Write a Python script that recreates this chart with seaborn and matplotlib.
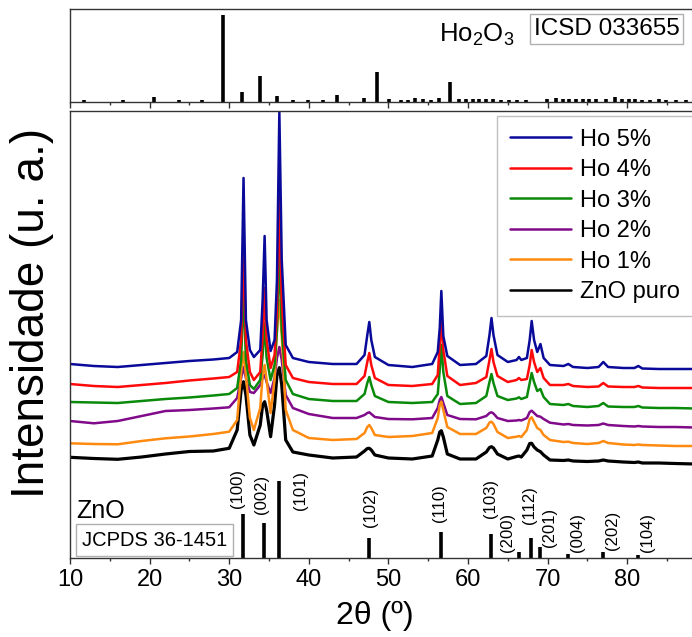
import numpy as np
import pandas as pd
import matplotlib
matplotlib.use('Agg')
import matplotlib.pyplot as plt
import seaborn as sns
from matplotlib.ticker import MultipleLocator

sns.set_theme(style='white')
plt.rcParams['font.family'] = ['Liberation Sans', 'DejaVu Sans']
plt.rcParams['mathtext.fontset'] = 'custom'
plt.rcParams['mathtext.rm'] = 'Liberation Sans'
plt.rcParams['mathtext.it'] = 'Liberation Sans:italic'
plt.rcParams['text.color'] = 'black'
plt.rcParams['xtick.color'] = 'black'
plt.rcParams['axes.labelcolor'] = 'black'

# ---------- DRX data ----------
two_theta = [10, 13, 16, 19, 22, 25, 28, 30,
             31.0, 31.5, 31.8, 32.1, 32.6, 33.1,
             33.9, 34.2, 34.45, 34.7, 35.2,
             35.7, 36.0, 36.3, 36.6, 37.1,
             38, 40, 43, 46,
             47.0, 47.35, 47.6, 47.85, 48.3,
             50, 53, 55.5,
             56.2, 56.45, 56.65, 56.9, 57.4,
             59, 61,
             62.3, 62.7, 62.95, 63.2, 63.7,
             65,
             66.1, 66.4, 66.7,
             67.4, 67.75, 68.0, 68.3, 68.7,
             69.1, 69.5, 70.3,
             72.0, 72.6, 73.2,
             75.0, 76.4, 77.0, 77.6,
             79.5, 80.9, 81.4, 81.9,
             84, 86, 88.5]

ho5 = [194, 192, 191, 193, 195, 197, 198.5, 200,
       206, 238, 380, 238, 208, 201,
       208, 258, 322, 238, 207,
       218, 278, 446, 298, 213,
       200, 196, 194, 194,
       203, 223, 236, 218, 201,
       193, 191, 194,
       206, 230, 267, 222, 202,
       193, 194,
       202, 223, 240, 223, 203,
       196,
       198, 201, 198,
       200, 218, 237, 218, 206,
       214, 200, 193,
       192, 194, 191,
       190, 191, 196, 191,
       190, 190, 192, 189.5,
       189, 189, 189]

ho4 = [174, 172, 171, 173, 175, 177.5, 179.5, 181,
       186, 218, 313, 218, 186, 178,
       186, 223, 270, 218, 190,
       203, 248, 361, 258, 193,
       180, 176, 174, 174,
       182, 196, 205, 193, 180,
       173, 172, 174,
       183, 213, 238, 208, 182,
       173, 175,
       181, 198, 209, 196, 182,
       176,
       178, 180, 178,
       179, 193, 208, 196, 186,
       190, 180, 173,
       173, 174, 172,
       171, 171.5, 175, 171.5,
       171, 171, 172, 170.5,
       170, 170, 170]

ho3 = [156, 155.5, 155, 157, 159, 160.5, 162.5, 164,
       170, 198, 268, 198, 173, 169,
       178, 203, 235, 200, 178,
       193, 228, 307, 228, 178,
       164, 159, 157, 157,
       164, 175, 181, 173, 162,
       156, 155, 156,
       164, 188, 213, 186, 162,
       154, 155,
       162, 176, 184, 175, 162,
       158,
       159.5, 160.7, 159,
       161, 175, 185, 176, 167,
       169, 161, 154,
       153, 154, 152,
       151, 152, 155, 151.5,
       151, 151, 152, 150.5,
       150, 150, 149.5]

ho2 = [137, 134.7, 137, 142, 147, 148, 149.5, 150.7,
       160, 180, 191, 180, 166, 165,
       173, 180, 183, 176, 165,
       180, 200, 211, 198, 163,
       150, 144, 140, 140,
       143, 145, 145.7, 144, 141,
       139, 138.7, 140,
       150, 158, 161, 155, 143,
       139, 138.7,
       142, 145, 145.7, 144.5, 140,
       137,
       137.5, 138, 137.5,
       140, 146, 147.3, 145, 142,
       141.3, 139, 135.3,
       133.5, 134, 133,
       132.5, 133, 134.5, 133,
       132, 131.5, 132, 131.5,
       131, 131, 130.5]

ho1 = [114.7, 114, 113.7, 117, 119.7, 121.5, 124, 126.3,
       138, 186, 206, 183, 140, 128,
       150, 183, 193, 178, 145,
       178, 228, 258, 223, 148,
       128, 120, 118, 119,
       125, 131, 133, 130, 123,
       121, 122, 125,
       140, 153, 156.3, 148, 131,
       124, 124,
       130, 135.5, 136.3, 134, 126,
       120,
       121.3, 122, 121,
       128, 139, 140.7, 136, 130,
       128, 123, 118,
       116, 116.3, 115,
       114, 115, 117, 115,
       113.5, 113, 113.5, 113,
       112.5, 112, 112]

zno_puro = [100.7, 99.5, 98.7, 101, 104, 106.5, 107, 109.7,
            128, 168, 176.3, 163, 123, 113,
            133, 153, 156.3, 148, 121.3,
            153, 183, 190.3, 173, 118,
            106, 103, 100, 101,
            107, 109.5, 109.7, 108, 103,
            100, 99, 102,
            118, 126, 127.3, 121, 104,
            99, 99,
            106, 110.5, 111.3, 110, 104,
            99,
            101.5, 102, 101,
            108, 114.5, 114.7, 111, 108,
            106.3, 103, 98,
            97.5, 98, 97,
            96.5, 97, 98, 97,
            96, 95.5, 96, 95,
            95, 94.5, 94]

# ZnO reference (JCPDS 36-1451)
zno_pos = [31.77, 34.42, 36.25, 47.54, 56.6, 62.86, 66.38, 67.96, 69.1, 72.56, 76.95, 81.37]
zno_int = [44.3, 35, 76.7, 20, 26, 23.7, 6, 20, 11, 4, 6, 3]
zno_hkl = ['(100)', '(002)', '(101)', '(102)', '(110)', '(103)',
           '(200)', '(112)', '(201)', '(004)', '(202)', '(104)']

# Ho2O3 reference (ICSD 033655)
ho2o3_pos = [11.76, 16.7, 20.55, 23.7, 26.6, 29.18, 31.6, 33.83, 35.96, 37.97,
             39.9, 41.8, 43.5, 46.97, 48.55, 50.1, 51.6, 52.4, 53.34, 54.3,
             55.35, 56.3, 57.74, 58.9, 59.75, 60.6, 61.4, 62.3, 63.1, 64.15,
             65.2, 66.2, 67.3, 69.9, 71.05, 71.9, 72.7, 73.6, 74.4, 75.2,
             76.1, 77.3, 78.5, 79.35, 80.2, 81.0, 81.9, 82.9, 84.0, 84.9,
             86.1, 87.4]
ho2o3_int = [1.7, 2, 4.3, 2, 2, 86.7, 9.7, 25.3, 6, 2,
             1.7, 2, 6.3, 3.7, 29.3, 2.7, 1.7, 2, 3.3, 2.3,
             2, 3.3, 20, 3, 2.7, 3, 2.3, 2.3, 2.3, 1.7,
             2, 1.7, 1.7, 2.3, 3.3, 2.7, 2.7, 2.3, 2.3, 2.7,
             2.7, 3, 4.3, 2.3, 3, 2.3, 2, 2, 2.3, 2,
             2, 1.7]

labels = ['Ho 5%', 'Ho 4%', 'Ho 3%', 'Ho 2%', 'Ho 1%', 'ZnO puro']
series = [ho5, ho4, ho3, ho2, ho1, zno_puro]
colors = ['#0a0a9a', '#ff0a0a', '#0a8a0a', '#800a8a', '#ff8a10', '#000000']
widths = [1.8, 1.8, 1.8, 1.8, 1.8, 2.3]

# ---------- Figure ----------
fig = plt.figure(figsize=(6.92, 6.37), dpi=100)
W, H = 692, 637
x0 = 70
x1 = 696
xmax = 10 + (x1 - x0) / 7.96

ax_top = fig.add_axes([x0 / W, 1 - 101.5 / H, (x1 - x0) / W, 92.5 / H])
ax = fig.add_axes([x0 / W, 1 - 558 / H, (x1 - x0) / W, (558 - 110.7) / H])

# top panel: Ho2O3 sticks
ax_top.vlines(ho2o3_pos, 0, ho2o3_int, color='black', lw=2.6)
ax_top.set_xlim(10, xmax)
ax_top.set_ylim(0, 92.5)
ax_top.text(56.36, 59.8, r'Ho$_2$O$_3$', fontsize=18.5, va='baseline', ha='left')
ax_top.text(68.3, 72.5, 'ICSD 033655', fontsize=17.5, va='center', ha='left',
            bbox=dict(boxstyle='square,pad=0.15', fc='white', ec='#b0b0b0', lw=1))

# main panel: patterns
draw_order = [5, 3, 4, 2, 1, 0]
handles = {}
for i in draw_order:
    df = pd.DataFrame({'2theta': two_theta, 'I': series[i]})
    sns.lineplot(data=df, x='2theta', y='I', color=colors[i], lw=widths[i],
                 ax=ax, estimator=None, legend=False)
    handles[i] = ax.lines[-1]

ax.vlines(zno_pos, 0, zno_int, color='black', lw=2.6)

hkl_x = [31.0, 34.1, 39.0, 47.8, 56.4, 62.8, 65.0, 67.7, 70.3, 73.7, 78.2, 82.5]
hkl_y = [69, 64, 68, 51, 55, 60, 26, 53, 31, 26, 28, 26]
for xl, yl, t in zip(hkl_x, hkl_y, zno_hkl):
    ax.text(xl, yl, t, rotation=90, fontsize=12, ha='center', va='center')

ax.text(10.75, 40, 'ZnO', fontsize=18, va='baseline', ha='left')
ax.text(11.5, 18, 'JCPDS 36-1451', fontsize=14.5, va='center', ha='left',
        bbox=dict(boxstyle='square,pad=0.3', fc='white', ec='#b0b0b0', lw=1))

ax.set_xlim(10, xmax)
ax.set_ylim(0, 447.3)
ax.set_xlabel('')
ax.set_ylabel('')

leg = ax.legend([handles[i] for i in range(6)], labels, loc='upper left',
                bbox_to_anchor=((497 - x0) / (x1 - x0), 1 - 5 / 447.3),
                borderaxespad=0, fontsize=17, frameon=True, fancybox=False,
                handlelength=2.6, handletextpad=0.35, labelspacing=0.36,
                borderpad=0.55)
leg.get_frame().set_edgecolor('#b0b0b0')
leg.get_frame().set_linewidth(1)
for lh in leg.get_lines():
    lh.set_linewidth(1.8)

for a in (ax_top, ax):
    for s in a.spines.values():
        s.set_color('#333333')
        s.set_linewidth(1)
    a.set_yticks([])
    a.xaxis.set_major_locator(MultipleLocator(10))
    a.xaxis.set_minor_locator(MultipleLocator(5))
    a.tick_params(axis='x', which='major', direction='out', length=4, width=1,
                  color='#333333', bottom=True, top=False, labelsize=17, pad=4,
                  labelcolor='black')
    a.tick_params(axis='x', which='minor', direction='out', length=2.5, width=1,
                  color='#333333', bottom=True, top=False)
ax_top.tick_params(axis='x', labelbottom=False)

fig.text(32 / W, 1 - 313 / H, 'Intensidade (u. a.)', rotation=90, fontsize=33,
         ha='center', va='center')
fig.text(375 / W, 1 - 616 / H, '2θ (º)', fontsize=23, ha='center', va='center')

fig.savefig('out.png', dpi=100)
